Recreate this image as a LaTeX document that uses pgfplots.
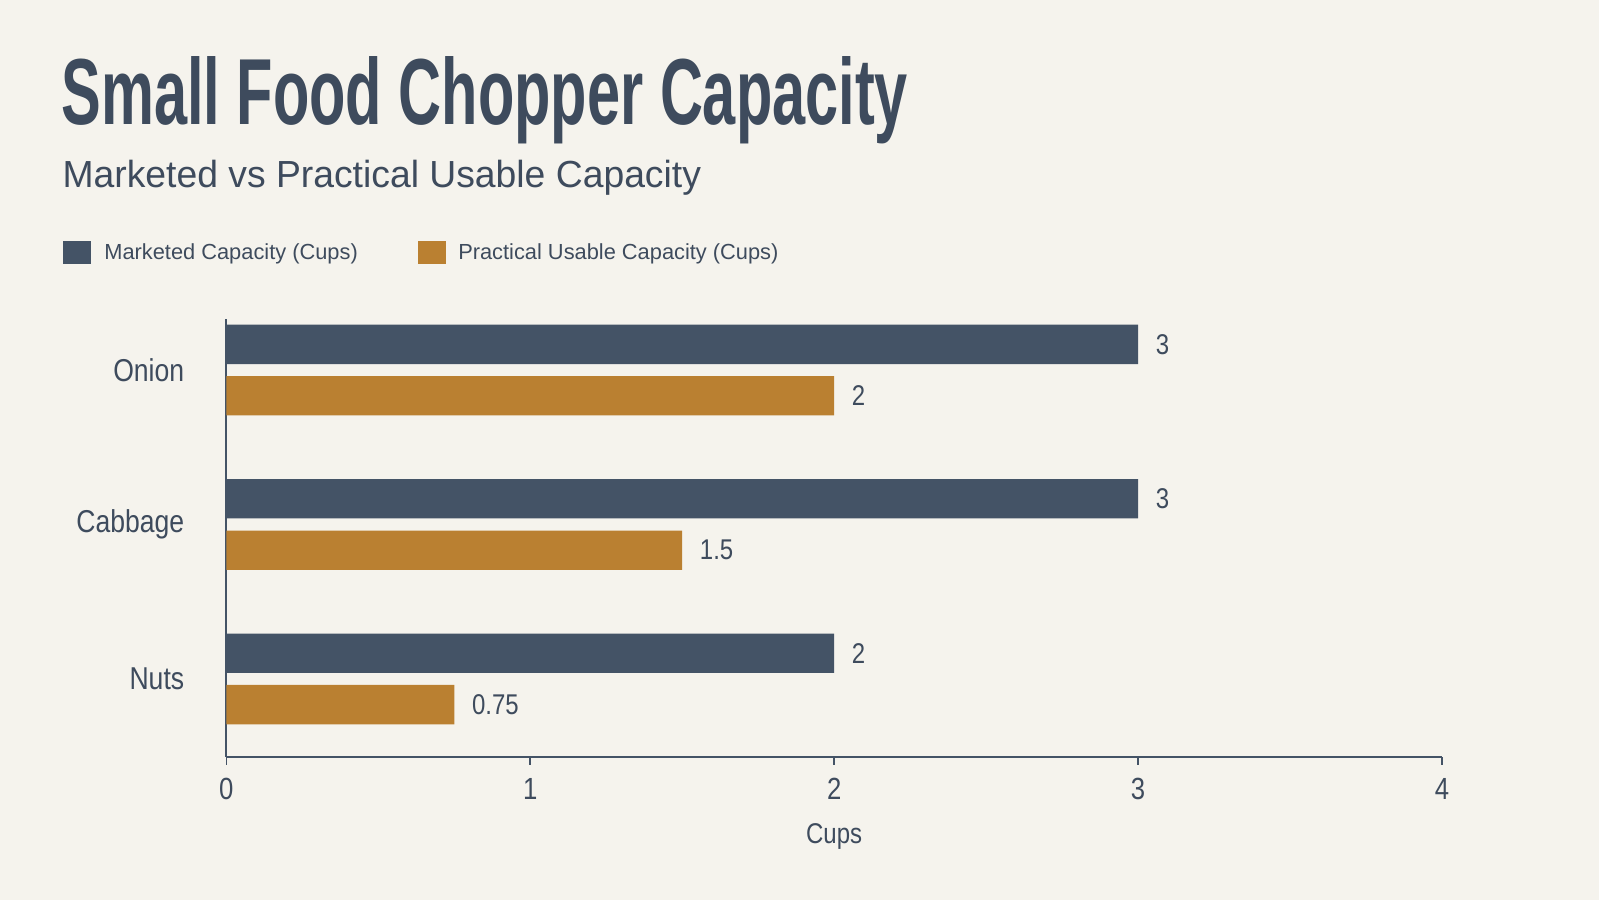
\documentclass[border=0pt]{standalone}
\usepackage{pgfplots}
\pgfplotsset{compat=1.18}
\usepackage{fontspec}
\setmainfont{Liberation Sans}
\newfontfamily\condfont[FakeStretch=0.84]{Liberation Sans}
\definecolor{bg}{HTML}{F5F3ED}
\definecolor{slate}{HTML}{445366}
\definecolor{gold}{HTML}{BA8031}
\definecolor{txt}{HTML}{3E4B5D}
\begin{document}
\begin{tikzpicture}
\fill[bg] (0,0) rectangle (784pt,-441.5pt);
\path[use as bounding box] (0,0) rectangle (784pt,-441.5pt);
\node[anchor=base west, inner sep=0pt, text=txt] at (30pt,-60.8pt)
  {\resizebox{415pt}{\height}{\fontsize{46}{50}\selectfont\bfseries Small Food Chopper Capacity}};
\node[anchor=base west, inner sep=0pt, text=txt] at (30.5pt,-91.9pt)
  {\resizebox{313pt}{\height}{\fontsize{18.5}{22}\selectfont Marketed vs Practical Usable Capacity}};
\begin{axis}[
  at={(111pt,-371pt)}, anchor=south west,
  scale only axis, width=596pt, height=214.5pt,
  xbar, bar width=19.3pt,
  xmin=0, xmax=4, ymin=-0.503, ymax=2.329,
  axis x line=bottom, axis y line=left,
  axis line style={-, draw=slate, line width=1pt},
  xtick={0,1,2,3,4},
  ytick={0,1,2}, yticklabels={Nuts,Cabbage,Onion},
  major y tick style={draw=none},
  major x tick style={draw=slate, line width=0.8pt},
  tick align=outside, major tick length=4pt,
  /pgf/number format/assume math mode=true,
  xticklabel style={font=\condfont\fontsize{15}{18}\selectfont, text=txt, inner sep=0pt, anchor=center, yshift=-12pt},
  yticklabel style={font=\condfont\fontsize{15.5}{18}\selectfont, text=txt, inner sep=0pt, anchor=east, xshift=-16.5pt},
  xlabel={Cups},
  xlabel style={at={(rel axis cs:0.5,0)}, anchor=center, yshift=-39pt, font=\condfont\fontsize{14}{17}\selectfont, text=txt},
  nodes near coords,
  nodes near coords style={font=\condfont\fontsize{14}{17}\selectfont, text=txt, anchor=west, inner sep=0pt, xshift=8.5pt},
  legend columns=2,
  legend style={at={(rel axis cs:-0.1347,1.152)}, anchor=west, draw=none, fill=none,
    inner sep=0pt, font=\fontsize{10.7}{13}\selectfont, text=txt,
    nodes={inner sep=0pt},
    /tikz/column 1/.style={column sep=6.5pt},
    /tikz/column 2/.style={column sep=29.5pt},
    /tikz/column 3/.style={column sep=6pt}},
  legend image code/.code={\fill[#1] (0pt,-5.75pt) rectangle (13.75pt,5.75pt);},
]
\addplot[fill=slate, draw=none, bar shift=12.6pt] coordinates {(3,2) (3,1) (2,0)};
\addlegendentry{Marketed Capacity (Cups)}
\addplot[fill=gold, draw=none, bar shift=-12.6pt] coordinates {(2,2) (1.5,1) (0.75,0)};
\addlegendentry{Practical Usable Capacity (Cups)}
\end{axis}
\end{tikzpicture}
\end{document}
